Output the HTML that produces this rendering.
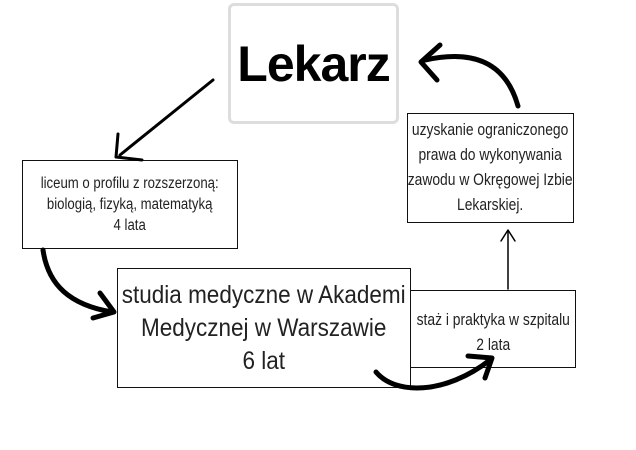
<!DOCTYPE html>
<html><head><meta charset="utf-8"><style>
body{margin:0;width:636px;height:450px;background:#fff;position:relative;overflow:hidden;font-family:"Liberation Sans",sans-serif;color:#222}
.b{position:absolute;border:1.5px solid #111;box-sizing:border-box;display:flex;align-items:center;justify-content:center;text-align:center;background:#fff;white-space:nowrap}
.s{display:inline-block;transform:scaleX(0.88)}
</style></head><body>
<div class="b" style="left:228px;top:3px;width:171px;height:121px;border:3px solid #ddd;border-radius:6px;font-weight:bold;font-size:50px;color:#000;letter-spacing:-1px">Lekarz</div>
<div class="b" style="left:22px;top:160px;width:216px;height:89px;font-size:15.5px;line-height:21px"><span class="s" style="transform:scaleX(0.85)">liceum o profilu z rozszerzoną:<br>biologią, fizyką, matematyką<br>4 lata</span></div>
<div class="b" style="left:407px;top:113px;width:167px;height:110px;font-size:16.5px;line-height:25px"><span class="s" style="transform:scaleX(0.84)">uzyskanie ograniczonego<br>prawa do wykonywania<br>zawodu w Okręgowej Izbie<br>Lekarskiej.</span></div>
<div class="b" style="left:117px;top:268px;width:294px;height:120px;font-size:25px;line-height:33px"><span class="s" style="transform:scaleX(0.9)">studia medyczne w Akademi<br>Medycznej w Warszawie<br>6 lat</span></div>
<div class="b" style="left:410px;top:290px;width:166px;height:78px;font-size:16.5px;line-height:25px;padding-top:8px"><span class="s" style="transform:scaleX(0.84)">staż i praktyka w szpitalu<br>2 lata</span></div>
<svg width="636" height="450" style="position:absolute;left:0;top:0" fill="none" stroke="#000" stroke-linecap="round" stroke-linejoin="round">
<path d="M213 80 L120 155" stroke-width="3"/>
<path d="M118 134 L116 157 L142 160" stroke-width="3"/>
<path d="M518 106 C505 60 470 50 425 60" stroke-width="5"/>
<path d="M440 45 L421 62 L437 80" stroke-width="5"/>
<path d="M43 250 C48 285 70 305 112 312" stroke-width="5"/>
<path d="M100 293 L114 312 L93 318" stroke-width="5"/>
<path d="M376 372 C395 395 445 395 490 360" stroke-width="5"/>
<path d="M468 356 L492 358 L485 378" stroke-width="5"/>
<path d="M508 289 L508 232" stroke-width="1.5"/>
<path d="M501 241 L508 230 L515 241" stroke-width="1.5"/>
</svg>
</body></html>
